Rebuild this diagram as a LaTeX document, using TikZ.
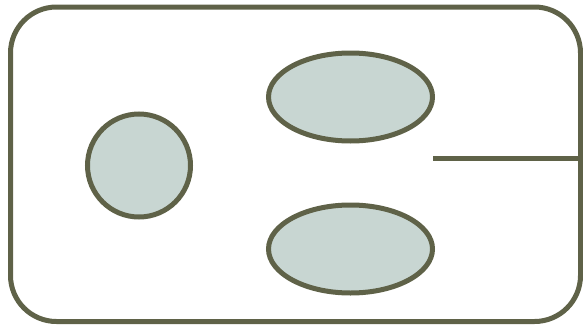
\documentclass[tikz,border=0pt]{standalone}
\usepackage{xcolor}
\usetikzlibrary{positioning,shapes.geometric}
\definecolor{olivedk}{HTML}{5F6248}
\definecolor{sagefl}{HTML}{C8D6D2}

\begin{document}
\begin{tikzpicture}[
  x=1pt, y=-1pt,
  ln/.style={draw=olivedk, line width=5pt},
  frm/.style={ln, rounded corners=46pt, inner sep=0pt, minimum width=570pt, minimum height=314.5pt},
  org/.style={ln, fill=sagefl, ellipse, inner sep=0pt, minimum width=#1, minimum height=88pt},
  org/.default=164pt,
  rnd/.style={ln, fill=sagefl, circle, inner sep=0pt, minimum size=103pt}
]
\useasboundingbox (0,0) rectangle (583,324);
% ---------------- outer frame
\node[frm] (cell) at (295.5,164.25) {};
% ---------------- inner bodies
\node[rnd] (nuc) at (139,165.5) {};
\node[org] (upr) at (350.5,97) {};
\node[org] (lwr) at (350.5,249) {};
% ---------------- stub to the frame
\coordinate (stub) at (433,158);
\draw[ln] (stub) -- (stub -| cell.east);
\end{tikzpicture}
\end{document}
